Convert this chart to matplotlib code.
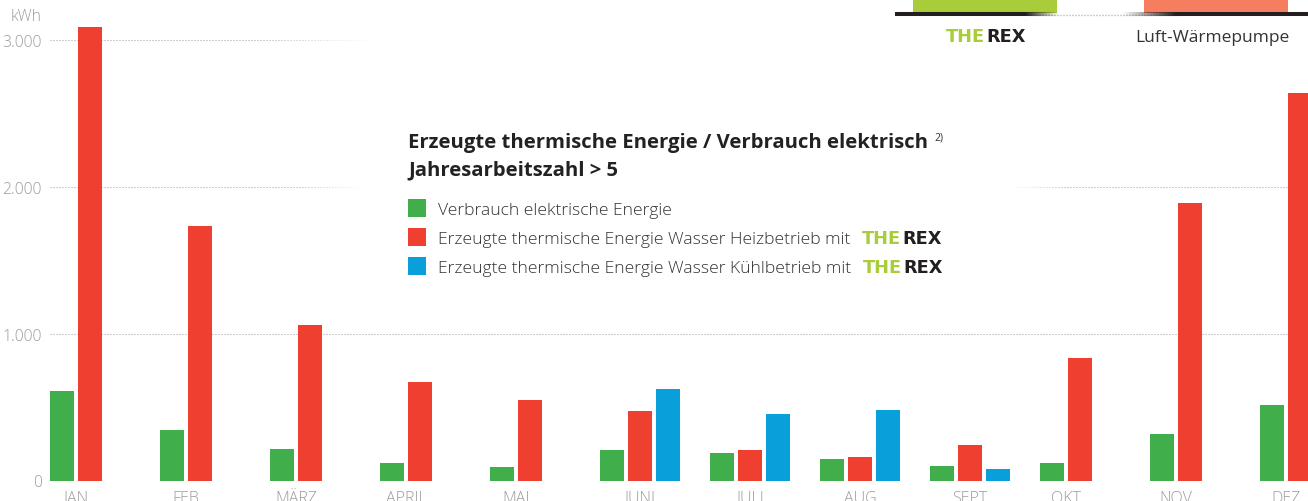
import numpy as np
import matplotlib
matplotlib.use("Agg")
import matplotlib.pyplot as plt
from matplotlib.collections import LineCollection
from matplotlib.patches import Rectangle

# ---------------- data ----------------
months = ["JAN", "FEB", "MÄRZ", "APRIL", "MAI", "JUNI",
          "JULI", "AUG", "SEPT", "OKT", "NOV", "DEZ"]
verbrauch = [610, 344, 215, 119, 92, 211, 190, 146, 99, 119, 317, 514]
heizbetrieb = [3089, 1734, 1059, 671, 548, 476, 211, 160, 242, 834, 1890, 2640]
kuehlbetrieb = [None, None, None, None, None, 626, 456, 480, 78, None, None, None]
yticks = [0, 1000, 2000, 3000]
ytick_labels = ["0", "1.000", "2.000", "3.000"]
unit_label = "kWh"
series_labels = ["Verbrauch elektrische Energie",
                 "Erzeugte thermische Energie Wasser Heizbetrieb mit",
                 "Erzeugte thermische Energie Wasser Kühlbetrieb mit"]
title_lines = ["Erzeugte thermische Energie / Verbrauch elektrisch",
               "Jahresarbeitszahl > 5"]
title_note = "2)"
logo_parts = ["THE", "REX"]
header_right = "Luft-Wärmepumpe"

# ---------------- style ----------------
GREEN, RED, BLUE = "#41ae4c", "#ef3f31", "#089fdb"
LIME, ORANGE, DARK = "#a8cc3a", "#f47e5f", "#231f20"
GREY, TEXT = "#9b9b9b", "#333333"
FONT = ["Open Sans", "DejaVu Sans"]
plt.rcParams["font.family"] = FONT

W, H, DPI = 1308, 502, 100
BASE_PX = 481.5          # pixel row of value 0
PX_PER_KWH = 0.1468
STEP = 110.0             # px per month
X0_PX = 90.0             # pixel column of month 0 (red bar centre)
LEFT_PX = 50.0

fig = plt.figure(figsize=(W / DPI, H / DPI), dpi=DPI)
ax = fig.add_axes([LEFT_PX / W, (H - BASE_PX) / H, (W - LEFT_PX) / W, BASE_PX / H])
ax.set_xlim((LEFT_PX - X0_PX) / STEP, (W - X0_PX) / STEP)
ax.set_ylim(0, BASE_PX / PX_PER_KWH)
for s in ax.spines.values():
    s.set_visible(False)


def px2x(p):
    return (p - X0_PX) / STEP


# ---------------- bars ----------------
x = np.arange(len(months))
off = 28 / STEP
bw = 24 / STEP
ax.bar(x - off, verbrauch, bw, color=GREEN, zorder=3, linewidth=0)
ax.bar(x, heizbetrieb, bw, color=RED, zorder=3, linewidth=0)
k_idx = [i for i, v in enumerate(kuehlbetrieb) if v is not None]
ax.bar(x[k_idx] + off, [kuehlbetrieb[i] for i in k_idx], bw, color=BLUE,
       zorder=3, linewidth=0)

# ---------------- grid (dotted, fading) ----------------
def dotted_line(axis, y, p0, p1, xp, fp, color=(0.62, 0.62, 0.62), lw=0.75,
                period=3.0, dot=1.3, conv=px2x, zorder=1):
    ps = np.arange(p0, p1, period)
    a = np.interp(ps, xp, fp)
    keep = a > 0.01
    segs = [[(conv(p), y), (conv(p + dot), y)] for p in ps[keep]]
    cols = [(*color, v) for v in a[keep]]
    lc = LineCollection(segs, colors=cols, linewidths=lw, zorder=zorder,
                        capstyle="butt")
    axis.add_collection(lc)

fades = {0: ([50, 1308], [1, 1]),
         1000: ([50, 1308], [1, 1]),
         2000: ([50, 290, 365, 1010, 1070, 1308], [1, 1, 0, 0, 1, 1]),
         3000: ([50, 260, 372, 1308], [1, 1, 0, 0])}
for yv in yticks:
    xp, fp = fades[yv]
    dotted_line(ax, yv, LEFT_PX, W, xp, fp)

# ---------------- ticks ----------------
centers = []
for i in range(len(months)):
    pos = [i - off, i] + ([i + off] if kuehlbetrieb[i] is not None else [])
    centers.append(np.mean(pos))
ax.set_xticks(centers, months)
ax.set_yticks(yticks, ytick_labels)
ax.tick_params(axis="x", length=0, pad=6.5, labelcolor=GREY, labelsize=11.5)
ax.tick_params(axis="y", length=0, pad=5.8, labelcolor=GREY, labelsize=11.3)
for lab in ax.get_xticklabels() + ax.get_yticklabels():
    lab.set_fontweight("light")

# ---------------- overlay (pixel coordinates) ----------------
ov = fig.add_axes([0, 0, 1, 1])
ov.set_xlim(0, W)
ov.set_ylim(H, 0)
ov.axis("off")
ov.set_zorder(5)

ov.text(42, 17, unit_label, ha="right", va="center", color=GREY,
        fontsize=11.3, fontweight="light")

renderer = fig.canvas.get_renderer()


def text_w(t):
    return t.get_window_extent(renderer).width


def draw_logo(x_left, y_base, size=13):
    t1 = ov.text(x_left, y_base, logo_parts[0], color=LIME, fontsize=size,
                 fontweight="heavy", va="baseline", ha="left",
                 family=["DejaVu Sans"])
    w1 = text_w(t1)
    ov.text(x_left + w1 + 1, y_base, logo_parts[1], color=DARK, fontsize=size,
            fontweight="heavy", va="baseline", ha="left",
            family=["DejaVu Sans"])

# header
ov.add_patch(Rectangle((913, 0), 144, 13.5, color=LIME, lw=0))
ov.add_patch(Rectangle((1144, 0), 144, 13.5, color=ORANGE, lw=0))
dotted_line(ov, 15.5, 1030, 1180, [1030, 1308], [1, 1], lw=1.0,
            conv=lambda p: p, zorder=2)
ps = np.arange(895, W, 1.0)
alpha = np.interp(ps, [895, 1025, 1058, 1122, 1175, 1308], [1, 1, 0, 0, 1, 1])
segs = [[(p, 15), (p + 1.0, 15)] for p in ps]
cols = [(0.137, 0.122, 0.125, a) for a in alpha]
ov.add_collection(LineCollection(segs, colors=cols, linewidths=2.9,
                                 capstyle="butt", zorder=3))
draw_logo(946, 42.5, size=12.8)
ov.text(1212, 42.5, header_right, ha="center", va="baseline", color=TEXT,
        fontsize=12.5)

# title
t_line1 = ov.text(408, 148, title_lines[0], fontsize=14.6, fontweight="bold",
                  color="#222222", va="baseline", ha="left")
ov.text(408, 175.5, title_lines[1], fontsize=14.6, fontweight="bold",
        color="#222222", va="baseline", ha="left")
ov.text(408 + text_w(t_line1) + 6, 141, title_note, fontsize=7.5,
        color=TEXT, va="baseline", ha="left")

# legend
row_y = [209, 238, 267]
colors = [GREEN, RED, BLUE]
for k, (lab, c, yy) in enumerate(zip(series_labels, colors, row_y)):
    ov.add_patch(Rectangle((408, yy - 9), 18, 18, color=c, lw=0))
    t = ov.text(438, yy + 6, lab, fontsize=12.6, color=TEXT, va="baseline",
                ha="left", fontweight="light")
    if k > 0:
        draw_logo(438 + text_w(t) + 12, yy + 6.5, size=12.8)

fig.savefig("out.png", dpi=DPI, facecolor="white")
